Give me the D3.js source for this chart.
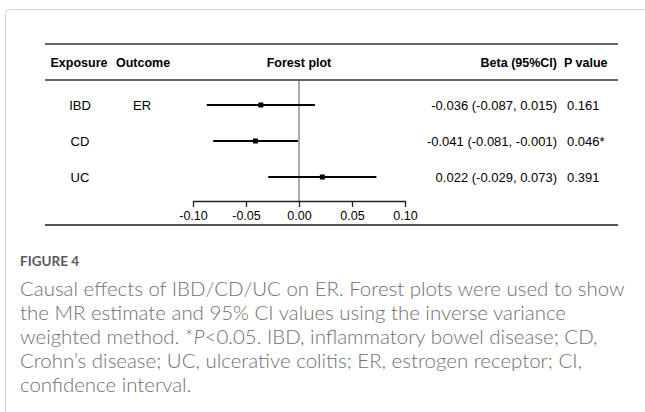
<!DOCTYPE html>
<html><head><meta charset="utf-8">
<script src="https://cdn.jsdelivr.net/npm/d3@7"></script>
<style>body{margin:0;background:#fff}svg{display:block}</style>
</head><body>
<svg id="c" width="645" height="412"></svg>
<script>
const exposures = ["IBD", "CD", "UC"];
const outcomes = ["ER", "", ""];
const betas = [-0.036, -0.041, 0.022];
const lowers = [-0.087, -0.081, -0.029];
const uppers = [0.015, -0.001, 0.073];
const betaLabels = ["-0.036 (-0.087, 0.015)", "-0.041 (-0.081, -0.001)", "0.022 (-0.029, 0.073)"];
const pLabels = ["0.161", "0.046*", "0.391"];
const xTicks = [-0.10, -0.05, 0.00, 0.05, 0.10];
const headers = ["Exposure", "Outcome", "Forest plot", "Beta (95%CI)", "P value"];
const figLabel = "FIGURE 4";
const captionLines = [
  [["Causal effects of IBD/CD/UC on ER. Forest plots were used to show", false]],
  [["the MR estimate and 95% CI values using the inverse variance", false]],
  [["weighted method. *", false], ["P", true], ["<0.05. IBD, inflammatory bowel disease; CD,", false]],
  [["Crohn\u2019s disease; UC, ulcerative colitis; ER, estrogen receptor; CI,", false]],
  [["confidence interval.", false]]
];

const svg = d3.select("#c");
const font = "'Liberation Sans', Arial, sans-serif";
const fsz = 13, hsz = 12.5;

// frame
svg.append("path").attr("d", "M5.5,412V13.5Q5.5,9.5 9.5,9.5H645")
  .attr("fill", "none").attr("stroke", "#d4d4d4").attr("stroke-width", 1);

const x = d3.scaleLinear().domain([-0.10, 0.10]).range([193, 405]);
const y = d3.scalePoint().domain(exposures).range([105, 177]);

const ruleX0 = 45, ruleX1 = 618;
svg.append("line").attr("x1", ruleX0).attr("x2", ruleX1).attr("y1", 44).attr("y2", 44)
  .attr("stroke", "#333").attr("stroke-width", 1.5);
svg.append("line").attr("x1", ruleX0).attr("x2", ruleX1).attr("y1", 80).attr("y2", 80)
  .attr("stroke", "#333").attr("stroke-width", 1.5);
svg.append("line").attr("x1", ruleX0).attr("x2", ruleX1).attr("y1", 225).attr("y2", 225)
  .attr("stroke", "#555").attr("stroke-width", 2);

// headers
const hx = [79, 143, x(0), 557, 564];
const ha = ["middle", "middle", "middle", "end", "start"];
svg.selectAll("text.hdr").data(headers).join("text").attr("class", "hdr")
  .attr("x", (d, i) => hx[i]).attr("y", 66.5).attr("text-anchor", (d, i) => ha[i])
  .attr("font-family", font).attr("font-size", hsz).attr("font-weight", "bold").attr("fill", "#000")
  .text(d => d);

// zero line
svg.append("line").attr("x1", x(0)).attr("x2", x(0)).attr("y1", 80).attr("y2", 201)
  .attr("stroke", "#555").attr("stroke-width", 1);

// row texts
const rowText = (arr, xp, anchor) => svg.append("g").selectAll("text").data(arr).join("text")
  .attr("x", xp).attr("y", (d, i) => y(exposures[i]) + 4.6).attr("text-anchor", anchor)
  .attr("font-family", font).attr("font-size", fsz).attr("fill", "#000").text(d => d);
rowText(exposures, 80, "middle");
rowText(outcomes, 142, "middle");
rowText(betaLabels, 557, "end");
rowText(pLabels, 567, "start");

// CIs
svg.append("g").selectAll("line").data(exposures).join("line")
  .attr("x1", (d, i) => x(lowers[i])).attr("x2", (d, i) => x(uppers[i]))
  .attr("y1", d => y(d)).attr("y2", d => y(d))
  .attr("stroke", "#000").attr("stroke-width", 2);
svg.append("g").selectAll("rect").data(exposures).join("rect")
  .attr("x", (d, i) => x(betas[i]) - 2.5).attr("y", d => y(d) - 2.5)
  .attr("width", 5).attr("height", 5).attr("fill", "#000");

// axis
const ax = svg.append("g").attr("transform", "translate(0,201)")
  .call(d3.axisBottom(x).tickValues(xTicks).tickSize(6).tickSizeOuter(0).tickPadding(4.5)
    .tickFormat(d => d.toFixed(2)));
ax.selectAll("path,line").attr("stroke", "#222").attr("stroke-width", 1.3);
ax.selectAll("text").attr("font-family", font).attr("font-size", 12.5).attr("fill", "#000");

// caption
const capFont = "Lato, 'Open Sans', sans-serif";
svg.append("text").attr("x", 20).attr("y", 266).attr("font-family", capFont)
  .attr("font-size", 13.5).attr("font-weight", "bold").attr("fill", "#5a5a5a").text(figLabel);
const cap = svg.append("g");
captionLines.forEach((parts, li) => {
  const t = cap.append("text").attr("x", 20).attr("y", 296 + li * 24)
    .attr("font-family", capFont).attr("font-size", 18).attr("font-weight", 300).attr("fill", "#707070");
  parts.forEach(([s, it]) => t.append("tspan").attr("font-style", it ? "italic" : null).text(s));
});
// fit caption width to the reference line width
const w0 = cap.select("text").node().getComputedTextLength();
const fs = 18 * 605 / w0;
cap.selectAll("text").attr("font-size", fs);
</script>
</body></html>
